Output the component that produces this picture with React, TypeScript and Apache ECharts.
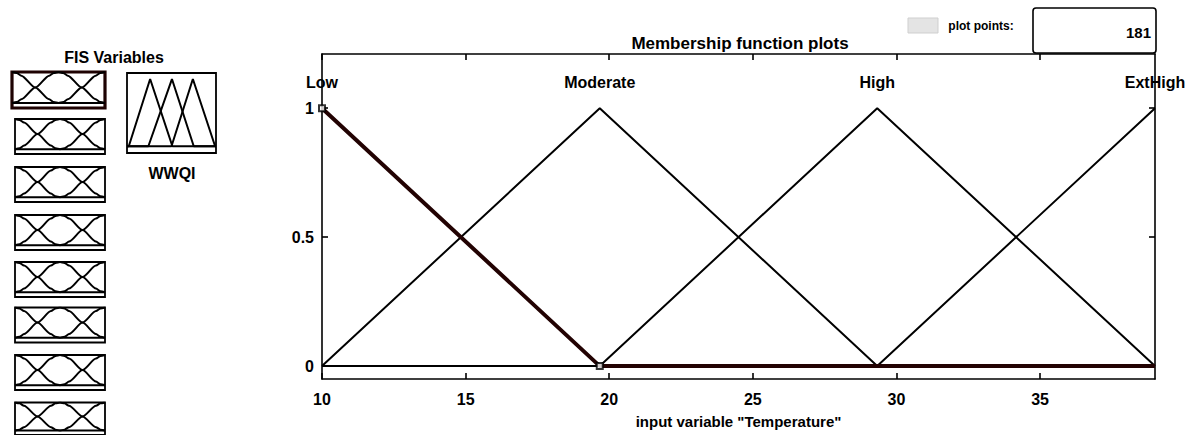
import React, { useEffect, useRef } from "react";
import * as echarts from "echarts";

const FONT = '"Liberation Sans", Arial, Helvetica, sans-serif';

// ---- main plot data ----
const xTicks = [10, 15, 20, 25, 30, 35];
const yTicks = [0, 0.5, 1];
const xMin = 10;
const xMax = 39;
const yMin = -0.05;
const yMax = 1.21;

const mfNames = ["Low", "Moderate", "High", "ExtHigh"];
const mfPeaks = [10, 19.67, 29.33, 39];
const mfLabelLevel = 1.1;

const lowX = [10, 19.67, 39];
const lowY = [1, 0, 0];
const moderateX = [10, 19.67, 29.33, 39];
const moderateY = [0, 1, 0, 0];
const highX = [10, 19.67, 29.33, 39];
const highY = [0, 0, 1, 0];
const extHighX = [10, 29.33, 39];
const extHighY = [0, 0, 1];
const handleX = [10, 19.67];
const handleY = [1, 0];

// ---- FIS variable icons (input: three bell MFs; output: triangles) ----
const iconX = [0, 0.05, 0.1, 0.25, 0.4, 0.45, 0.5, 0.55, 0.6, 0.75, 0.9, 0.95, 1];
const iconLowY = [1, 0.97, 0.88, 0.5, 0.12, 0.03, 0, 0, 0, 0, 0, 0, 0];
const iconMidY = [0, 0.03, 0.12, 0.5, 0.88, 0.97, 1, 0.97, 0.88, 0.5, 0.12, 0.03, 0];
const iconHighY = [0, 0, 0, 0, 0, 0, 0, 0.03, 0.12, 0.5, 0.88, 0.97, 1];

const outTri1X = [0, 0.02, 0.26, 0.51, 1];
const outTri1Y = [0, 0, 1, 0, 0];
const outTri2X = [0, 0.24, 0.505, 0.75, 1];
const outTri2Y = [0, 0, 1, 0, 0];
const outTri3X = [0, 0.5, 0.74, 0.99, 1];
const outTri3Y = [0, 0, 1, 0, 0];

const plotPoints = "181";
const xAxisName = 'input variable "Temperature"';

const pts = (xs: number[], ys: number[]) => xs.map((x, i) => [x, ys[i]]);

function buildOption() {
  const grids: any[] = [
    { left: 322, top: 54, width: 833, height: 325, show: false },
  ];
  const xAxes: any[] = [];
  const yAxes: any[] = [];
  const series: any[] = [];

  const axLine = { show: true, onZero: false, lineStyle: { color: "#000", width: 1.6 } };
  const tickStyle = { color: "#000", width: 1.6 };
  const labelFont = { color: "#000", fontFamily: FONT, fontSize: 16, fontWeight: "bold" };

  xAxes.push({
    type: "value",
    gridIndex: 0,
    position: "bottom",
    min: xMin,
    max: xMax,
    axisLine: axLine,
    axisTick: { show: true, inside: true, length: 6, customValues: xTicks, lineStyle: tickStyle },
    axisLabel: { show: true, customValues: xTicks, margin: 12, ...labelFont },
    splitLine: { show: false },
    name: xAxisName,
    nameLocation: "middle",
    nameGap: 35,
    nameTextStyle: { color: "#000", fontFamily: FONT, fontSize: 15, fontWeight: "bold" },
  });
  xAxes.push({
    type: "value",
    gridIndex: 0,
    position: "top",
    min: xMin,
    max: xMax,
    axisLine: axLine,
    axisTick: { show: true, inside: true, length: 6, customValues: xTicks, lineStyle: tickStyle },
    axisLabel: { show: false },
    splitLine: { show: false },
  });
  yAxes.push({
    type: "value",
    gridIndex: 0,
    position: "left",
    min: yMin,
    max: yMax,
    axisLine: axLine,
    axisTick: { show: true, inside: true, length: 6, customValues: yTicks, lineStyle: tickStyle },
    axisLabel: { show: true, customValues: yTicks, margin: 8, ...labelFont },
    splitLine: { show: false },
  });
  yAxes.push({
    type: "value",
    gridIndex: 0,
    position: "right",
    min: yMin,
    max: yMax,
    axisLine: axLine,
    axisTick: { show: true, inside: true, length: 6, customValues: yTicks, lineStyle: tickStyle },
    axisLabel: { show: false },
    splitLine: { show: false },
  });

  const mainLine = (name: string, xs: number[], ys: number[], color: string, width: number, z: number) => ({
    name,
    type: "line",
    xAxisIndex: 0,
    yAxisIndex: 0,
    data: pts(xs, ys),
    symbol: "none",
    lineStyle: { color, width },
    z,
  });
  series.push(mainLine("Moderate", moderateX, moderateY, "#000", 2, 2));
  series.push(mainLine("High", highX, highY, "#000", 2, 2));
  series.push(mainLine("ExtHigh", extHighX, extHighY, "#000", 2, 2));
  series.push(mainLine("Low", lowX, lowY, "#220202", 4, 3));
  series.push({
    name: "handles",
    type: "scatter",
    xAxisIndex: 0,
    yAxisIndex: 0,
    data: pts(handleX, handleY),
    symbol: "emptyRect",
    symbolSize: 6,
    itemStyle: { color: "#000", borderColor: "#000", borderWidth: 1.2 },
    z: 4,
  });
  series.push({
    name: "mfLabels",
    type: "scatter",
    xAxisIndex: 0,
    yAxisIndex: 0,
    data: mfPeaks.map((x) => [x, mfLabelLevel]),
    symbolSize: 0,
    itemStyle: { color: "#000", opacity: 1 },
    label: {
      show: true,
      position: "inside",
      formatter: (p: any) => mfNames[p.dataIndex],
      color: "#000",
      opacity: 1,
      fontFamily: FONT,
      fontSize: 16,
      fontWeight: "bold",
    },
    z: 5,
  });

  // icon grids
  const addIcon = (
    box: { left: number; top: number; width: number; height: number; bw: number; bc: string },
    yLo: number,
    yHi: number,
    curves: number[][][]
  ) => {
    const gi = grids.length;
    grids.push({
      left: box.left,
      top: box.top,
      width: box.width,
      height: box.height,
      show: true,
      borderColor: box.bc,
      borderWidth: box.bw,
      backgroundColor: "rgba(0,0,0,0)",
    });
    xAxes.push({ type: "value", gridIndex: gi, min: 0, max: 1, show: false });
    yAxes.push({ type: "value", gridIndex: gi, min: yLo, max: yHi, show: false });
    const ai = xAxes.length - 1;
    curves.forEach((c) => {
      series.push({
        type: "line",
        xAxisIndex: ai,
        yAxisIndex: ai,
        data: c,
        symbol: "none",
        smooth: 0.25,
        smoothMonotone: "x",
        lineStyle: { color: "#000", width: 2 },
        silent: true,
      });
    });
  };

  const inputCurves = [pts(iconX, iconLowY), pts(iconX, iconMidY), pts(iconX, iconHighY)];
  addIcon({ left: 12, top: 72, width: 93, height: 36, bw: 3.2, bc: "#1e0202" }, -0.16, 1, inputCurves);
  const inputTops = [119, 167, 215, 262, 307.5, 355, 402.5];
  inputTops.forEach((t) =>
    addIcon({ left: 15, top: t, width: 90, height: 35, bw: 1.8, bc: "#000" }, -0.16, 1, inputCurves)
  );

  const outCurves = [pts(outTri1X, outTri1Y), pts(outTri2X, outTri2Y), pts(outTri3X, outTri3Y)];
  const gi = grids.length;
  grids.push({
    left: 127,
    top: 73,
    width: 89,
    height: 80,
    show: true,
    borderColor: "#000",
    borderWidth: 1.8,
    backgroundColor: "rgba(0,0,0,0)",
  });
  xAxes.push({ type: "value", gridIndex: gi, min: 0, max: 1, show: false });
  yAxes.push({ type: "value", gridIndex: gi, min: -0.1, max: 1.09, show: false });
  const oi = xAxes.length - 1;
  outCurves.forEach((c) =>
    series.push({
      type: "line",
      xAxisIndex: oi,
      yAxisIndex: oi,
      data: c,
      symbol: "none",
      lineStyle: { color: "#000", width: 2 },
      silent: true,
    })
  );

  const txt = (text: string, x: number, y: number, size: number, align: string, z = 1) => ({
    type: "text",
    x,
    y,
    z,
    style: {
      text,
      fill: "#000",
      fontFamily: FONT,
      fontSize: size,
      fontWeight: "bold",
      align,
      verticalAlign: "middle",
    },
  });

  const graphic: any[] = [
    txt("Membership function plots", 740, 43, 17, "center"),
    txt("FIS Variables", 114, 57, 16, "center"),
    txt("WWQI", 172, 173, 16, "center"),
    {
      type: "rect",
      shape: { x: 908, y: 18, width: 30, height: 15 },
      style: { fill: "#e4e4e4", stroke: "#cfcfcf", lineWidth: 1 },
    },
    txt("plot points:", 981, 26, 12, "center"),
    {
      type: "rect",
      shape: { x: 1033, y: 8, width: 123, height: 45, r: 3 },
      style: { fill: "#fff", stroke: "#000", lineWidth: 1.6 },
      z: 10,
    },
    txt(plotPoints, 1151, 32, 15, "right", 11),
  ];

  return {
    animation: false,
    backgroundColor: "#fff",
    grid: grids,
    xAxis: xAxes,
    yAxis: yAxes,
    series,
    graphic,
  };
}

export default function App() {
  const ref = useRef<HTMLDivElement>(null);
  useEffect(() => {
    if (!ref.current) return;
    const chart = echarts.init(ref.current, undefined, { renderer: "svg" });
    chart.setOption(buildOption() as any);
    return () => chart.dispose();
  }, []);
  return (
    <div
      ref={ref}
      style={{ position: "fixed", left: 0, top: 0, width: 1192, height: 435, background: "#fff" }}
    />
  );
}
